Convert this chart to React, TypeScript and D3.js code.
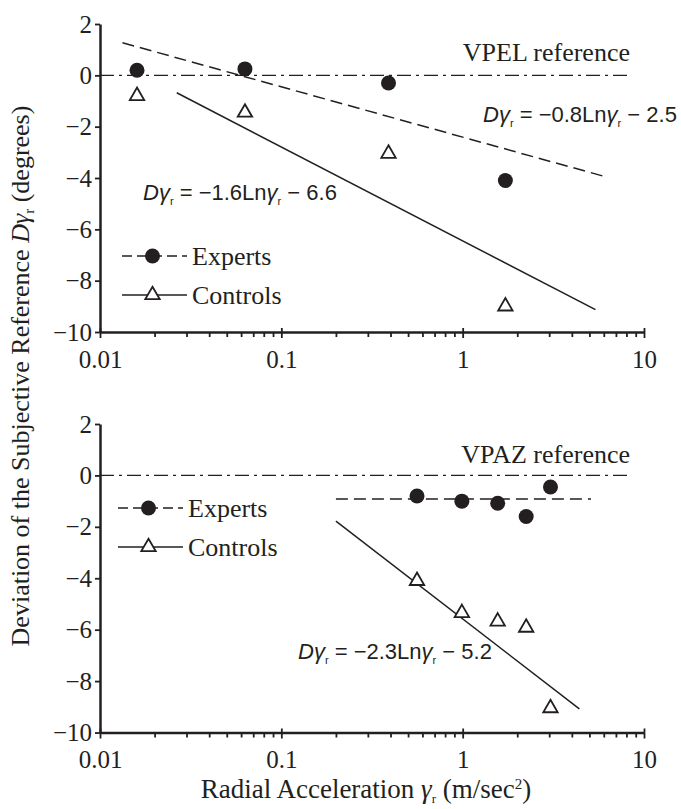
import React, { useEffect, useRef } from "react";
import * as d3 from "d3";

const xTicks = [0.01, 0.1, 1, 10];
const yTicks = [2, 0, -2, -4, -6, -8, -10];

// VPEL panel (top)
const vpelAccel = [0.016, 0.063, 0.39, 1.72];
const vpelExperts = [0.2, 0.25, -0.3, -4.1];
const vpelControls = [-0.8, -1.45, -3.05, -9.0];
const vpelExpertsFit = [[0.0133, 1.27], [6.2, -3.96]];
const vpelControlsFit = [[0.0265, -0.68], [5.4, -9.13]];

// VPAZ panel (bottom)
const vpazAccel = [0.56, 0.99, 1.56, 2.24, 3.05];
const vpazExperts = [-0.8, -1.0, -1.08, -1.6, -0.45];
const vpazControls = [-4.1, -5.35, -5.68, -5.92, -9.05];
const vpazExpertsFit = [[0.2, -0.92], [5.1, -0.92]];
const vpazControlsFit = [[0.2, -1.78], [4.4, -9.08]];

const referenceLine = [[0.01, 0], [8.4, 0]];

const INK = "#231f20";
const SERIF = "'Liberation Serif', 'Times New Roman', serif";
const SANS = "'Liberation Sans', Arial, sans-serif";

const panels = [
  {
    top: 24, bottom: 332,
    accel: vpelAccel, experts: vpelExperts, controls: vpelControls,
    expertsFit: vpelExpertsFit, controlsFit: vpelControlsFit,
    refLabel: "VPEL reference", refLabelY: 61,
    equations: [
      { x: 483, y: 122, coef: "−0.8", b: "2.5" },
      { x: 143, y: 200, coef: "−1.6", b: "6.6" },
    ],
    legend: { x1: 122, x2: 187, y1: 256, y2: 295 },
  },
  {
    top: 424, bottom: 732.5,
    accel: vpazAccel, experts: vpazExperts, controls: vpazControls,
    expertsFit: vpazExpertsFit, controlsFit: vpazControlsFit,
    refLabel: "VPAZ reference", refLabelY: 463,
    equations: [{ x: 298, y: 659, coef: "−2.3", b: "5.2" }],
    legend: { x1: 118, x2: 183, y1: 508, y2: 547 },
  },
];

function addEquation(g, eq) {
  const t = g.append("text")
    .attr("x", eq.x).attr("y", eq.y)
    .style("font-family", SANS).attr("font-size", 22)
    .attr("fill", INK).style("white-space", "pre");
  t.append("tspan").attr("font-style", "italic").text("Dγ");
  t.append("tspan").attr("font-size", 11).attr("dy", 5).text("r");
  t.append("tspan").attr("dy", -5).text(` = ${eq.coef}Ln`);
  t.append("tspan").attr("font-style", "italic").text("γ");
  t.append("tspan").attr("font-size", 11).attr("dy", 5).text("r");
  t.append("tspan").attr("dy", -5).text(` − ${eq.b}`);
}

function drawPanel(svg, p) {
  const x = d3.scaleLog().domain([0.01, 10]).range([100, 644]);
  const y = d3.scaleLinear().domain([-10, 2]).range([p.bottom, p.top]);
  const g = svg.append("g");
  const line = d3.line().x(d => x(d[0])).y(d => y(d[1]));

  g.append("path").attr("d", line(referenceLine))
    .attr("fill", "none").attr("stroke", INK).attr("stroke-width", 1.3)
    .attr("stroke-dasharray", "14,5,3,5");
  g.append("path").attr("d", line(p.expertsFit))
    .attr("fill", "none").attr("stroke", INK).attr("stroke-width", 1.5)
    .attr("stroke-dasharray", "12,6");
  g.append("path").attr("d", line(p.controlsFit))
    .attr("fill", "none").attr("stroke", INK).attr("stroke-width", 1.5);

  const tri = d3.symbol(d3.symbolTriangle, 90);
  g.selectAll(".ctl").data(p.controls).enter().append("path")
    .attr("d", tri())
    .attr("transform", (d, i) => `translate(${x(p.accel[i])},${y(d)})`)
    .attr("fill", "white").attr("stroke", INK).attr("stroke-width", 1.8);
  g.selectAll(".exp").data(p.experts).enter().append("circle")
    .attr("cx", (d, i) => x(p.accel[i])).attr("cy", d => y(d))
    .attr("r", 7.5).attr("fill", INK);

  // axes
  const minor = [];
  [0.01, 0.1, 1].forEach(dec => { for (let k = 2; k <= 9; k++) minor.push(k * dec); });
  const xg = g.append("g").attr("transform", `translate(0,${p.bottom})`);
  xg.append("g").call(d3.axisBottom(x).tickValues(minor).tickSize(5).tickSizeOuter(0).tickFormat(() => ""))
    .call(a => a.select(".domain").remove());
  xg.append("g").call(d3.axisTop(x).tickValues(xTicks).tickSize(4).tickSizeOuter(0).tickFormat(() => ""))
    .call(a => a.select(".domain").remove());
  xg.append("g").call(d3.axisBottom(x).tickValues(xTicks).tickSize(6).tickSizeOuter(0).tickPadding(12).tickFormat(d => String(d)))
    .call(a => a.select(".domain").attr("stroke-width", 2.5));
  xg.selectAll(".tick line").attr("stroke", INK).attr("stroke-width", 1.8);
  xg.selectAll("text").style("font-family", SERIF).attr("font-size", 25).attr("fill", INK);
  xg.selectAll(".domain").attr("stroke", INK);

  const yg = g.append("g").attr("transform", "translate(100,0)")
    .call(d3.axisLeft(y).tickValues(yTicks).tickSize(5).tickSizeOuter(0).tickPadding(3));
  yg.select(".domain").attr("stroke", INK).attr("stroke-width", 2.5);
  yg.selectAll(".tick line").attr("stroke", INK).attr("stroke-width", 1.8);
  yg.selectAll("text").style("font-family", SERIF).attr("font-size", 25).attr("fill", INK);

  g.append("text").attr("x", 630).attr("y", p.refLabelY).attr("text-anchor", "end")
    .style("font-family", SERIF).attr("font-size", 26).attr("fill", INK).text(p.refLabel);

  p.equations.forEach(eq => addEquation(g, eq));

  // legend
  const L = p.legend;
  const mid = (L.x1 + L.x2) / 2 - 2;
  g.append("line").attr("x1", L.x1).attr("x2", L.x2).attr("y1", L.y1).attr("y2", L.y1)
    .attr("stroke", INK).attr("stroke-width", 1.5).attr("stroke-dasharray", "10,5");
  g.append("circle").attr("cx", mid).attr("cy", L.y1).attr("r", 7.5).attr("fill", INK);
  g.append("line").attr("x1", L.x1).attr("x2", L.x2).attr("y1", L.y2).attr("y2", L.y2)
    .attr("stroke", INK).attr("stroke-width", 1.5);
  g.append("path").attr("d", tri()).attr("transform", `translate(${mid},${L.y2})`)
    .attr("fill", "white").attr("stroke", INK).attr("stroke-width", 1.8);
  [["Experts", L.y1], ["Controls", L.y2]].forEach(([label, ly]) => {
    g.append("text").attr("x", L.x2 + 5).attr("y", ly).attr("dy", "0.33em")
      .style("font-family", SERIF).attr("font-size", 26).attr("fill", INK).text(label);
  });
}

export default function App() {
  const ref = useRef(null);

  useEffect(() => {
    const svg = d3.select(ref.current);
    svg.selectAll("*").remove();
    panels.forEach(p => drawPanel(svg, p));

    const yl = svg.append("text").attr("transform", "translate(29,376) rotate(-90)")
      .attr("text-anchor", "middle").style("font-family", SERIF).attr("font-size", 26)
      .attr("fill", INK).style("white-space", "pre");
    yl.append("tspan").text("Deviation of the Subjective Reference ");
    yl.append("tspan").attr("font-style", "italic").text("Dγ");
    yl.append("tspan").attr("font-size", 15).attr("dy", 5).text("r");
    yl.append("tspan").attr("dy", -5).text(" (degrees)");

    const xl = svg.append("text").attr("x", 366).attr("y", 798)
      .attr("text-anchor", "middle").style("font-family", SERIF).attr("font-size", 27)
      .attr("fill", INK).style("white-space", "pre");
    xl.append("tspan").text("Radial Acceleration ");
    xl.append("tspan").attr("font-style", "italic").text("γ");
    xl.append("tspan").attr("font-size", 13).attr("dy", 5).text("r");
    xl.append("tspan").attr("dy", -5).text(" (m/sec");
    xl.append("tspan").attr("font-size", 15).attr("dy", -9).text("2");
    xl.append("tspan").attr("dy", 9).text(")");
  }, []);

  return (
    <svg ref={ref} width={681} height={809}
      style={{ position: "absolute", left: 0, top: 0, background: "white" }} />
  );
}
